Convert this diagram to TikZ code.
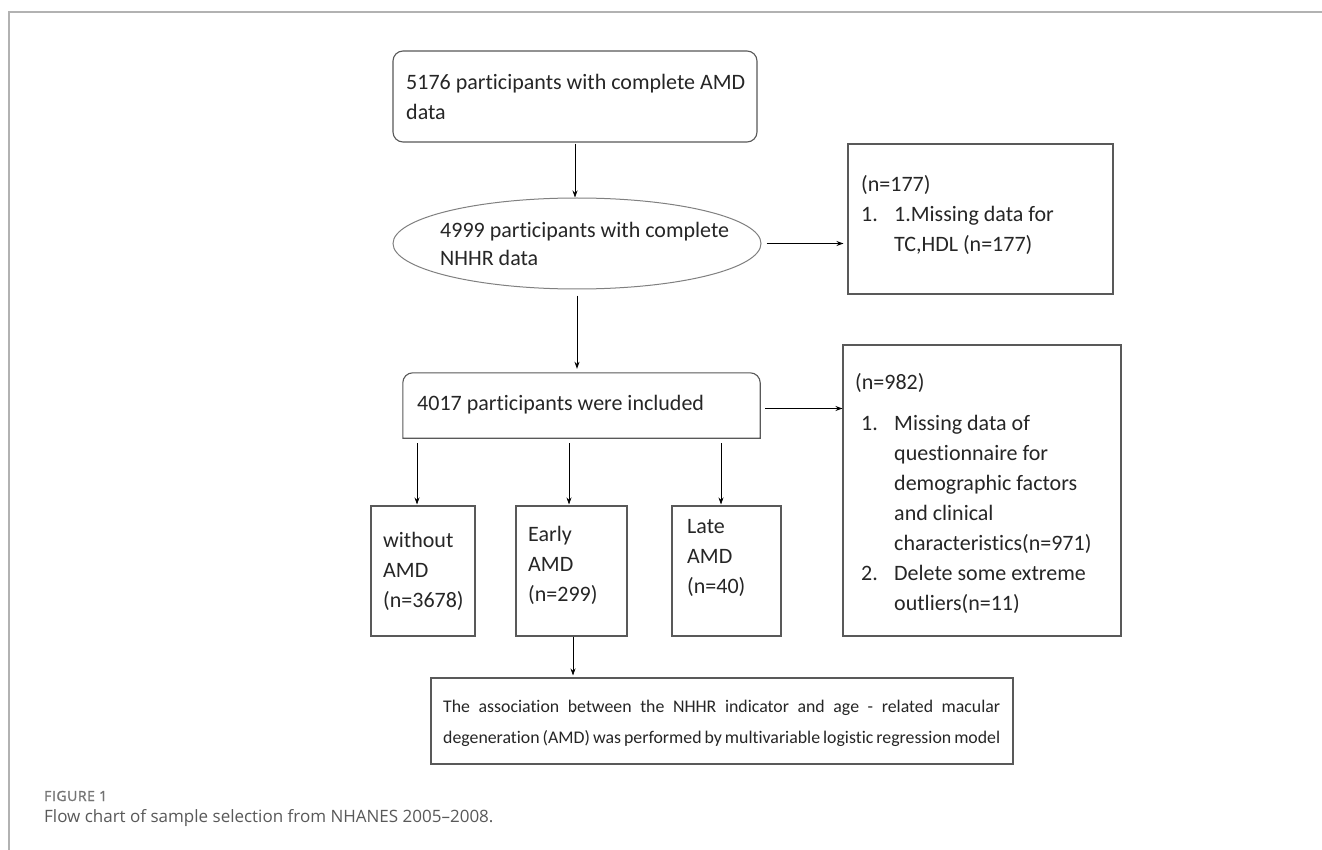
\documentclass[tikz,border=0pt]{standalone}
\usepackage{fontspec}
\setmainfont{Carlito}[Ligatures=NoCommon]
\newfontfamily\capfont{Open Sans}
\newfontfamily\capboldfont{Open Sans}[FakeBold=1.2, LetterSpace=4]
\usetikzlibrary{arrows.meta,shapes.geometric}
\begin{document}
\begin{tikzpicture}[x=1pt,y=-1pt,
  boxline/.style={draw=black!65, line width=1.1pt},
  plainbox/.style={boxline, rectangle, inner sep=0pt},
  arr/.style={-{Stealth[length=7pt,width=5pt]}, line width=0.8pt, black},
  txt/.style={inner sep=0pt, anchor=north west, align=left, font=\fontsize{22}{30}\selectfont, text=black!85}]
\useasboundingbox (0,0) rectangle (1322,850);
\fill[white] (0,0) rectangle (1322,850);
\draw[black!30, line width=1.5pt] (9,850) -- (9,12) -- (1322,12);

% boxes
\node[plainbox, rounded corners=10pt, minimum width=364pt, minimum height=91pt] (top) at (575,96.5) {};
\node[ellipse, draw=black!50, line width=1pt, minimum width=368pt, minimum height=91pt, inner sep=0pt] (ell) at (577,243.5) {};
\node[plainbox, minimum width=265pt, minimum height=150pt] (b177) at (980.5,219) {};
\node[rectangle, inner sep=0pt, minimum width=357pt, minimum height=65pt] (b4017) at (581.5,405.5) {};
\draw[boxline] (b4017.south west) -- ([yshift=-10pt]b4017.north west) arc[start angle=180,end angle=90,radius=10pt] -- ([xshift=-10pt]b4017.north east) arc[start angle=90,end angle=0,radius=10pt] -- (b4017.south east) -- cycle;
\node[plainbox, minimum width=278pt, minimum height=291pt] (b982) at (982,490.5) {};
\node[plainbox, minimum width=104pt, minimum height=130pt] (wo) at (423,571) {};
\node[plainbox, minimum width=111pt, minimum height=130pt] (early) at (571.5,571) {};
\node[plainbox, minimum width=109pt, minimum height=130pt] (late) at (726.5,571) {};
\node[plainbox, minimum width=582pt, minimum height=86pt] (bot) at (722,721) {};

% texts
\node[txt] (ttop) at (406,68.6) {\strut 5176 participants with complete AMD\\data};
\node[txt, font=\fontsize{22}{28}\selectfont] (tell) at (440,217.6) {\strut 4999 participants with complete\\NHHR data};
\node[txt] (t177) at (861,170.6) {\strut (n=177)\\\makebox[33pt][l]{1.}1.Missing data for\\\hspace*{33pt}TC,HDL (n=177)};
\node[txt] (t4017) at (417,389.6) {\strut 4017 participants were included};
\node[txt] (t982h) at (855,368.6) {\strut (n=982)};
\node[txt] (t982l) at (861,409.6) {\strut\makebox[33pt][l]{1.}Missing data of\\\hspace*{33pt}questionnaire for\\\hspace*{33pt}demographic factors\\\hspace*{33pt}and clinical\\\hspace*{33pt}characteristics(n=971)\\\makebox[33pt][l]{2.}Delete some extreme\\\hspace*{33pt}outliers(n=11)};
\node[txt] (two) at (383,526.6) {\strut without\\AMD\\(n=3678)};
\node[txt] (tearly) at (528,520.6) {\strut Early\\AMD\\(n=299)};
\node[txt] (tlate) at (687,512.6) {\strut Late\\AMD\\(n=40)};
\node[txt, align=justify, text width=557pt, font=\fontsize{17.8}{31}\selectfont] (tbot) at (443,691) {\strut The association between the NHHR indicator and age - related macular\linebreak degeneration (AMD) was performed by multivariable logistic regression model};

% caption
\node[inner sep=0pt, anchor=west, font=\capboldfont\fontsize{14}{17}\selectfont, text=black!55] (fig) at (44,796) {FIGURE 1};
\node[inner sep=0pt, anchor=west, font=\capfont\fontsize{17}{20}\selectfont, text=black!65] (cap) at (44,818) {Flow chart of sample selection from NHANES 2005–2008.};

% connectors
\draw[arr, shorten <=1pt] (top.south) -- (top.south |- ell.north);
\draw[arr, shorten <=5pt, shorten >=4pt] (ell.east) -- (ell.east -| b177.west);
\draw[arr, shorten <=6pt, shorten >=4pt] (ell.south) -- (ell.south |- b4017.north);
\draw[arr, shorten <=5pt] ([yshift=-3pt]b4017.east) -- ([yshift=-3pt]b4017.east -| b982.west);
\draw[arr, shorten <=5pt, shorten >=1pt] ([xshift=-6pt]wo.north |- b4017.south) -- ([xshift=-6pt]wo.north);
\draw[arr, shorten <=5pt, shorten >=1pt] ([xshift=-2.5pt]early.north |- b4017.south) -- ([xshift=-2.5pt]early.north);
\draw[arr, shorten <=5pt, shorten >=1pt] ([xshift=-5.5pt]late.north |- b4017.south) -- ([xshift=-5.5pt]late.north);
\draw[arr, shorten >=2pt] ([xshift=1.5pt]early.south) -- ([xshift=1.5pt]early.south |- bot.north);
\end{tikzpicture}
\end{document}
